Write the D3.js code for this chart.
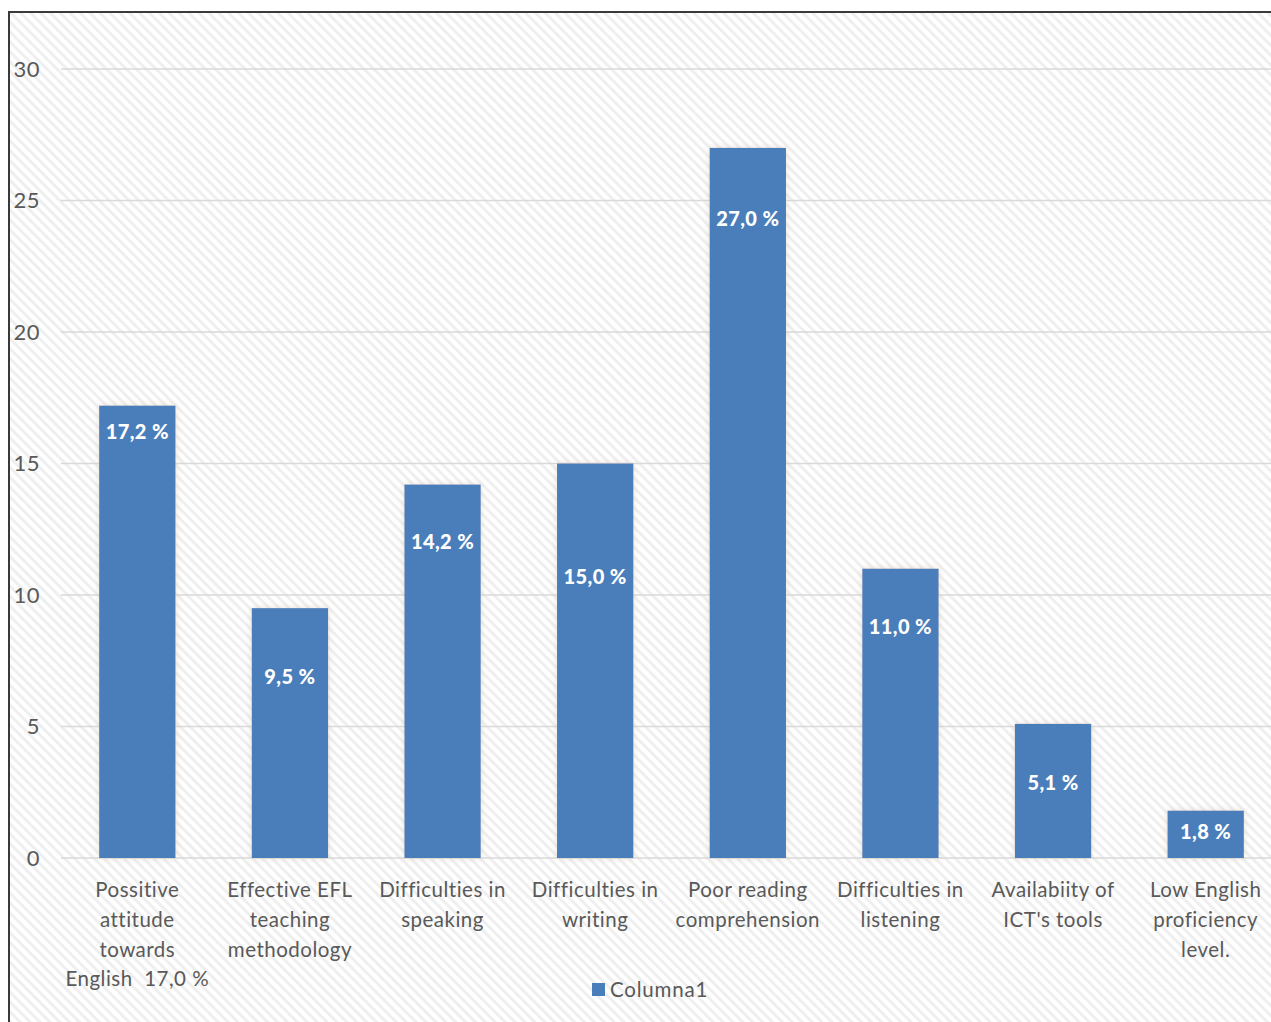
<!DOCTYPE html>
<html>
<head>
<meta charset="utf-8">
<script src="https://cdn.jsdelivr.net/npm/d3@7"></script>
<style>
  html, body { margin: 0; padding: 0; background: #ffffff; }
  svg { display: block; }
</style>
</head>
<body>
<svg id="chart" width="1271" height="1022"></svg>
<script>
// Data
const categories = [
    ['Possitive', 'attitude', 'towards', 'English\u00a0\u00a017,0 %'],
    ['Effective EFL', 'teaching', 'methodology'],
    ['Difficulties in', 'speaking'],
    ['Difficulties in', 'writing'],
    ['Poor reading', 'comprehension'],
    ['Difficulties in', 'listening'],
    ['Availabiity of', "ICT's tools"],
    ['Low English', 'proficiency', 'level.']
];
const values = [17.2, 9.5, 14.2, 15.0, 27.0, 11.0, 5.1, 1.8];
const valueLabels = ['17,2 %', '9,5 %', '14,2 %', '15,0 %', '27,0 %', '11,0 %', '5,1 %', '1,8 %'];
// where each data label sits, in value units (labels were placed by hand)
const labelAt = [16.2, 6.9, 12.0, 10.7, 24.3, 8.8, 2.85, 1.0];
const yTicks = [0, 5, 10, 15, 20, 25, 30];
const seriesName = 'Columna1';

const svg = d3.select('#chart');
const W = 1271, H = 1022;
const BLUE = '#4a7ebb';
const GREY = '#595959';
const FONT = 'Lato, "Open Sans", sans-serif';

// Background: chart area with faint diagonal hatching
const defs = svg.append('defs');
const pat = defs.append('pattern')
    .attr('id', 'hatch')
    .attr('patternUnits', 'userSpaceOnUse')
    .attr('width', 7).attr('height', 7)
    .attr('patternTransform', 'rotate(45)');
pat.append('rect').attr('width', 7).attr('height', 7).attr('fill', '#ffffff');
pat.append('rect').attr('width', 7).attr('height', 3).attr('fill', '#efefef');

const shadow = defs.append('filter')
    .attr('id', 'glow')
    .attr('x', '-20%').attr('y', '-20%')
    .attr('width', '140%').attr('height', '140%');
shadow.append('feGaussianBlur').attr('in', 'SourceAlpha').attr('stdDeviation', 3).attr('result', 'blur');
shadow.append('feFlood').attr('flood-color', '#d9c8b8').attr('flood-opacity', 0.6);
shadow.append('feComposite').attr('in2', 'blur').attr('operator', 'in').attr('result', 'sh');
const merge = shadow.append('feMerge');
merge.append('feMergeNode').attr('in', 'sh');
merge.append('feMergeNode').attr('in', 'SourceGraphic');

svg.append('rect')
    .attr('x', 9).attr('y', 12)
    .attr('width', W - 9).attr('height', H - 12)
    .attr('fill', 'url(#hatch)');

// Frame (only top and left visible, chart cropped on the others)
svg.append('path')
    .attr('d', `M9,${H} V12 H${W}`)
    .attr('fill', 'none')
    .attr('stroke', '#3a3a3a')
    .attr('stroke-width', 2);

// Scales
const x = d3.scaleBand()
    .domain(d3.range(values.length))
    .range([61, 1282])
    .paddingInner(0.5)
    .paddingOuter(0.25);

const y = d3.scaleLinear()
    .domain([0, 30])
    .range([858, 69]);

// Gridlines
svg.append('g')
    .selectAll('line')
    .data(yTicks)
    .join('line')
    .attr('x1', 61).attr('x2', W)
    .attr('y1', d => y(d)).attr('y2', d => y(d))
    .attr('stroke', '#d9d9d9')
    .attr('stroke-width', 1.5);

// Y tick labels
svg.append('g')
    .selectAll('text')
    .data(yTicks)
    .join('text')
    .attr('x', 40)
    .attr('y', d => y(d))
    .attr('dy', '0.35em')
    .attr('text-anchor', 'end')
    .attr('font-family', FONT)
    .attr('font-size', 22)
    .attr('letter-spacing', 0.5)
    .attr('fill', GREY)
    .text(d => d);

// Bars
svg.append('g')
    .selectAll('rect')
    .data(values)
    .join('rect')
    .attr('x', (d, i) => x(i))
    .attr('y', d => y(d))
    .attr('width', x.bandwidth())
    .attr('height', d => y(0) - y(d))
    .attr('fill', BLUE)
    .attr('filter', 'url(#glow)');

// Data labels
svg.append('g')
    .selectAll('text')
    .data(valueLabels)
    .join('text')
    .attr('x', (d, i) => x(i) + x.bandwidth() / 2)
    .attr('y', (d, i) => y(labelAt[i]))
    .attr('dy', '0.35em')
    .attr('text-anchor', 'middle')
    .attr('font-family', FONT)
    .attr('font-size', 20)
    .attr('font-weight', 900)
    .attr('letter-spacing', 0.4)
    .attr('fill', '#ffffff')
    .text(d => d);

// Category labels
const catG = svg.append('g')
    .selectAll('text')
    .data(categories)
    .join('text')
    .attr('x', (d, i) => x(i) + x.bandwidth() / 2)
    .attr('y', 890)
    .attr('text-anchor', 'middle')
    .attr('font-family', FONT)
    .attr('font-size', 20.5)
    .attr('letter-spacing', 0.5)
    .attr('fill', GREY);

catG.selectAll('tspan')
    .data(d => d)
    .join('tspan')
    .attr('x', function () { return this.parentNode.getAttribute('x'); })
    .attr('dy', (d, i) => i === 0 ? '0.35em' : 29.7)
    .text(d => d);

// Legend
const legend = svg.append('g');
legend.append('rect')
    .attr('x', 592).attr('y', 983)
    .attr('width', 13).attr('height', 13)
    .attr('fill', BLUE);
legend.append('text')
    .attr('x', 610).attr('y', 990)
    .attr('dy', '0.35em')
    .attr('font-family', FONT)
    .attr('font-size', 20.5)
    .attr('letter-spacing', 0.8)
    .attr('fill', GREY)
    .text(seriesName);
</script>
</body>
</html>
